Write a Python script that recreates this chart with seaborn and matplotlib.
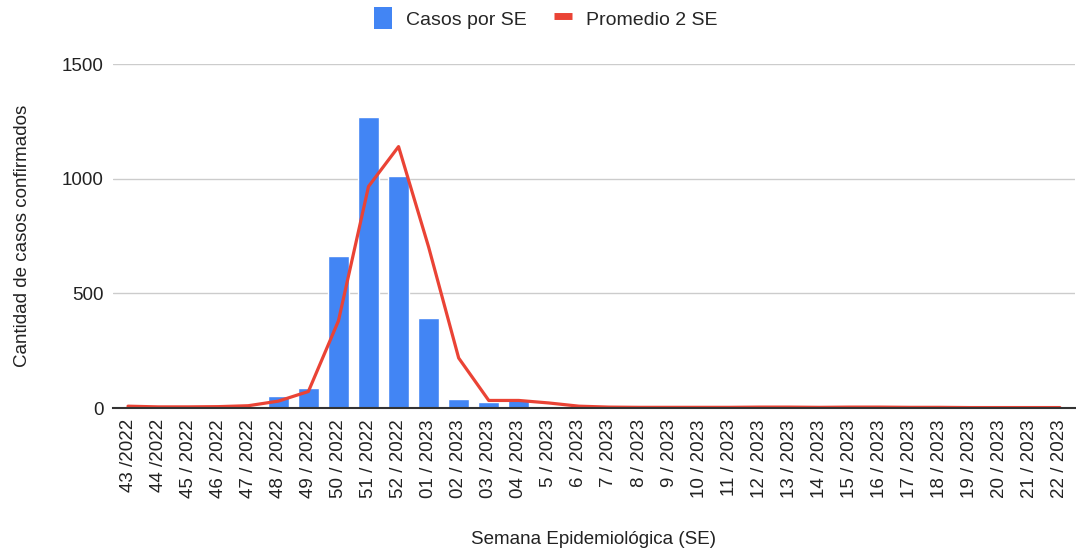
import numpy as np
import pandas as pd
import matplotlib
matplotlib.use("Agg")
import matplotlib.pyplot as plt
from matplotlib.patches import Patch
from matplotlib.lines import Line2D
import seaborn as sns

# Data
semanas = ["43 /2022", "44 /2022", "45 / 2022", "46 / 2022", "47 / 2022", "48 / 2022",
           "49 / 2022", "50 / 2022", "51 / 2022", "52 / 2022", "01 / 2023", "02 / 2023",
           "03 / 2023", "04 / 2023", "5 / 2023", "6 / 2023", "7 / 2023", "8 / 2023",
           "9 / 2023", "10 / 2023", "11 / 2023", "12 / 2023", "13 / 2023", "14 / 2023",
           "15 / 2023", "16 / 2023", "17 / 2023", "18 / 2023", "19 / 2023", "20 / 2023",
           "21 / 2023", "22 / 2023"]
casos = [4, 2, 2, 3, 6, 54, 88, 663, 1269, 1012, 392, 40,
         25, 39, 6, 3, 3, 2, 3, 2, 3, 4, 3, 3,
         4, 3, 3, 2, 2, 2, 2, 2]
promedio = [8, 5, 5, 6, 10, 30, 72, 380, 966, 1140, 702, 218,
            33, 33, 22, 8, 4, 3, 3, 3, 3, 4, 4, 3,
            4, 4, 3, 3, 2, 2, 2, 2]

df = pd.DataFrame({"semana": semanas, "casos": casos, "promedio": promedio})

blue = "#4285F4"
red = "#EA4335"

sns.set_style("white")
plt.rcParams["font.family"] = ["Liberation Sans", "DejaVu Sans"]

fig = plt.figure(figsize=(10.76, 5.51), dpi=100)
ax = fig.add_axes([0.105, 0.2595, 0.894, 0.6243])

sns.barplot(data=df, x="semana", y="casos", color=blue, saturation=1,
            width=0.7, ax=ax, zorder=2)
sns.pointplot(data=df, x="semana", y="promedio", color=red, markers="",
              linewidth=2.3, errorbar=None, ax=ax, zorder=3)

ax.set_ylim(0, 1500)
ax.set_xlim(-0.5, len(semanas) - 0.5)
ax.set_yticks([0, 500, 1000, 1500])
ax.yaxis.grid(True, color="#cccccc", linewidth=1)
ax.set_axisbelow(True)
for s in ["top", "right", "left"]:
    ax.spines[s].set_visible(False)
ax.spines["bottom"].set_color("#333333")
ax.spines["bottom"].set_linewidth(1.5)
ax.spines["bottom"].set_zorder(4)

ax.tick_params(axis="both", length=0, labelsize=13.5, colors="#222222")
ax.tick_params(axis="x", pad=8)
plt.setp(ax.get_xticklabels(), rotation=90)
ax.tick_params(axis="y", pad=7)

ax.set_xlabel("Semana Epidemiológica (SE)", fontsize=13.5, color="#222222", labelpad=24)
ax.set_ylabel("Cantidad de casos confirmados", fontsize=13.5, color="#222222", labelpad=22)

handles = [Patch(facecolor=blue, edgecolor="none"),
           Line2D([0], [0], color=red, linewidth=5, solid_capstyle="butt")]
fig.legend(handles, ["Casos por SE", "Promedio 2 SE"], loc="center",
           bbox_to_anchor=(0.507, 0.967), ncol=2, frameon=False, fontsize=14,
           handlelength=0.95, handleheight=1.4, handletextpad=0.7, columnspacing=1.4)

fig.savefig("out.png", dpi=100)
